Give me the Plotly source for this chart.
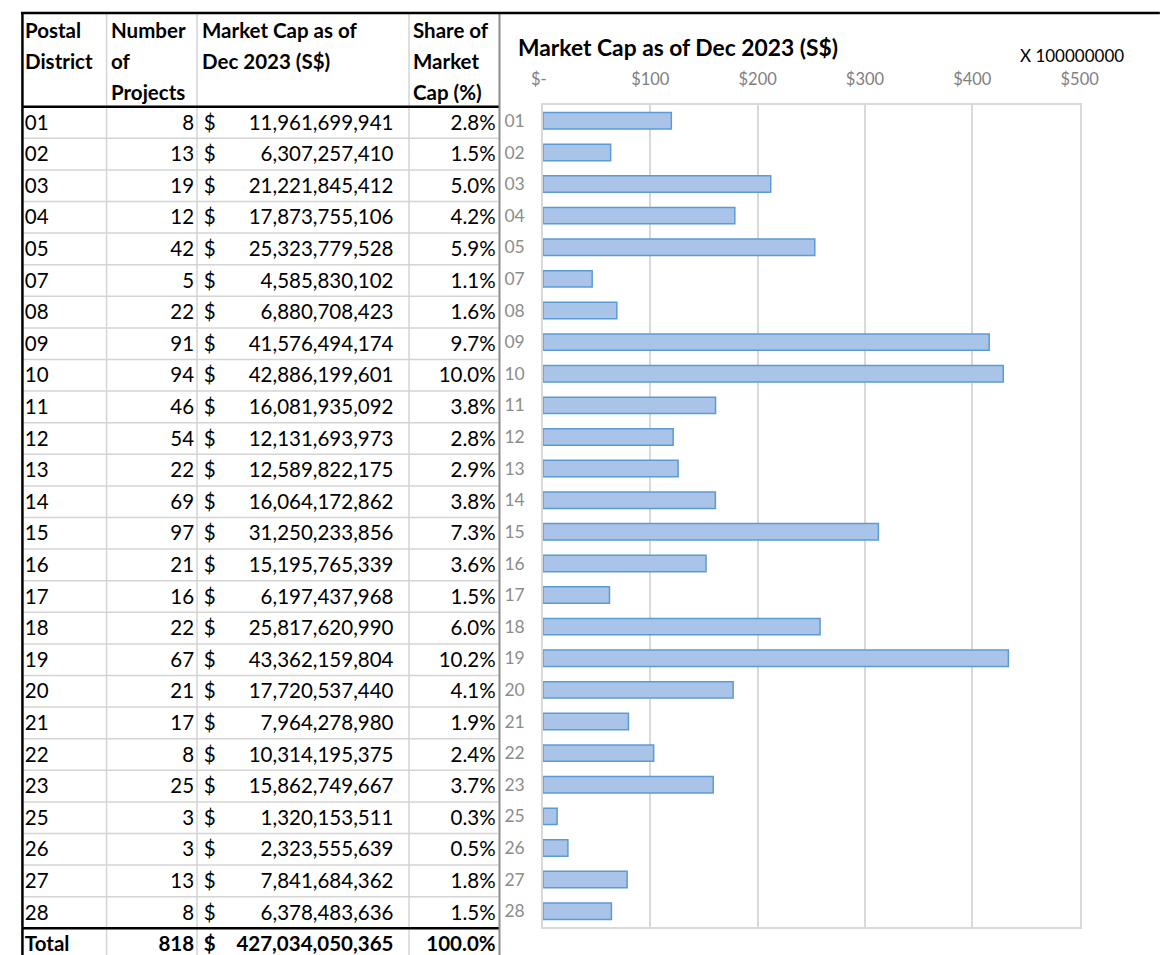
import plotly.graph_objects as go

# ---------------- data ----------------
districts = ["01", "02", "03", "04", "05", "07", "08", "09", "10", "11", "12", "13", "14",
             "15", "16", "17", "18", "19", "20", "21", "22", "23", "25", "26", "27", "28"]
projects = [8, 13, 19, 12, 42, 5, 22, 91, 94, 46, 54, 22, 69, 97, 21, 16, 22, 67, 21, 17,
            8, 25, 3, 3, 13, 8]
market_cap = [11961699941, 6307257410, 21221845412, 17873755106, 25323779528, 4585830102,
              6880708423, 41576494174, 42886199601, 16081935092, 12131693973, 12589822175,
              16064172862, 31250233856, 15195765339, 6197437968, 25817620990, 43362159804,
              17720537440, 7964278980, 10314195375, 15862749667, 1320153511, 2323555639,
              7841684362, 6378483636]
share_pct = [2.8, 1.5, 5.0, 4.2, 5.9, 1.1, 1.6, 9.7, 10.0, 3.8, 2.8, 2.9, 3.8, 7.3, 3.6, 1.5,
             6.0, 10.2, 4.1, 1.9, 2.4, 3.7, 0.3, 0.5, 1.8, 1.5]
total_label = "Total"
total_projects = 818
total_market_cap = 427034050365
total_share = 100.0

x_tick_vals = [0, 100, 200, 300, 400, 500]
x_tick_text = ["$-\u00a0\u00a0", "$100", "$200", "$300", "$400", "$500"]
unit_scale = 100000000

header_lines = {
    "district": ["Postal", "District"],
    "projects": ["Number", "of", "Projects"],
    "cap": ["Market Cap as of", "Dec 2023 (S$)"],
    "share": ["Share of", "Market", "Cap (%)"],
}

# ---------------- layout constants (page pixels) ----------------
PAGE_W, PAGE_H = 1175, 955
OFF = 8                      # default body margin of the html page
W, H = PAGE_W - OFF, PAGE_H - OFF
ROW_H = 31.6
HEADER_BOTTOM = 106.7
TEXT_DROP = 2                # table text sits slightly low in its row
FONT = "Lato, 'Open Sans', sans-serif"
TXT = 20.5


def row_of(px):
    return -0.5 + (px - HEADER_BOTTOM) / ROW_H


def px_x(px):
    return (px - OFF) / W


def px_y(px):
    return 1 - (px - OFF) / H


n = len(districts)
rows = list(range(n))
total_row = n

fig = go.Figure()

# ---------------- table (on x2/y2: page-pixel columns / row index) ----------------
col_x = {"district": 13, "projects": 187, "dollar": 197, "cap": 392, "share": 497}


def text_trace(xpos, ys, texts, pos, bold=False):
    return go.Scatter(
        x=[xpos] * len(ys), y=ys, text=[f"<b>{t}</b>" if bold else t for t in texts],
        mode="text", textposition=pos, xaxis="x2", yaxis="y2",
        textfont=dict(family=FONT, size=TXT, color="#000000"),
        hoverinfo="skip", showlegend=False, cliponaxis=False,
    )


fig.add_trace(text_trace(col_x["district"], rows, districts, "middle right"))
fig.add_trace(text_trace(col_x["projects"], rows, [str(p) for p in projects], "middle left"))
fig.add_trace(text_trace(col_x["dollar"], rows, ["$"] * n, "middle right"))
fig.add_trace(text_trace(col_x["cap"], rows, [f"{v:,}" for v in market_cap], "middle left"))
fig.add_trace(text_trace(col_x["share"], rows, [f"{s:.1f}%" for s in share_pct], "middle left"))

fig.add_trace(text_trace(col_x["district"], [total_row], [total_label], "middle right", True))
fig.add_trace(text_trace(col_x["projects"], [total_row], [str(total_projects)], "middle left", True))
fig.add_trace(text_trace(col_x["dollar"], [total_row], ["$"], "middle right", True))
fig.add_trace(text_trace(col_x["cap"], [total_row], [f"{total_market_cap:,}"], "middle left", True))
fig.add_trace(text_trace(col_x["share"], [total_row], [f"{total_share:.1f}%"], "middle left", True))

# header text (paper coordinates from page pixels)
header_y_px = [30, 61, 92]
header_x = {"district": 11, "projects": 99, "cap": 193, "share": 410}
annotations = []
for key, lines in header_lines.items():
    for i, line in enumerate(lines):
        annotations.append(dict(
            x=px_x(header_x[key]), y=px_y(header_y_px[i]), xref="paper", yref="paper",
            text=f"<b>{line}</b>", showarrow=False, xanchor="left", yanchor="middle",
            font=dict(family=FONT, size=TXT, color="#000000")))

# table lines (paper coordinates)
shapes = []
grey = "#d4d4d4"


def hline(y_px, x0, x1, color, width, layer="above"):
    return dict(type="line", xref="paper", yref="paper", x0=px_x(x0), x1=px_x(x1),
                y0=px_y(y_px), y1=px_y(y_px), line=dict(color=color, width=width), layer=layer)


def vline(x_px, y0, y1, color, width, layer="above"):
    return dict(type="line", xref="paper", yref="paper", x0=px_x(x_px), x1=px_x(x_px),
                y0=px_y(y0), y1=px_y(y1), line=dict(color=color, width=width), layer=layer)


for r in range(1, n):
    shapes.append(hline(HEADER_BOTTOM + r * ROW_H, 10, 500, grey, 1.5, "below"))
for vx in [97, 190, 408]:
    shapes.append(vline(vx, 13, PAGE_H + 5, grey, 1.5, "below"))
shapes.append(hline(HEADER_BOTTOM, 10, 501, "#000000", 2.5))
shapes.append(hline(HEADER_BOTTOM + n * ROW_H, 10, 501, "#000000", 2.5))
shapes.append(vline(501, 13, PAGE_H + 5, "#8c8c8c", 2))
shapes.append(hline(13, 9, PAGE_W + 5, "#000000", 2.5))
shapes.append(vline(10.5, 13, PAGE_H + 5, "#000000", 2.5))

# ---------------- bar chart ----------------
fig.add_trace(go.Bar(
    x=[v / unit_scale for v in market_cap], y=districts, orientation="h",
    marker=dict(color="#a9c4e8", line=dict(color="#5b9bd5", width=1.5)),
    hoverinfo="skip", showlegend=False,
))

PL, PR, PT, PB = 545.7, 1097.5, 105.0, 927.0

annotations.append(dict(
    x=px_x(518), y=px_y(47), xref="paper", yref="paper", xanchor="left", yanchor="middle",
    text="<b>Market Cap as of Dec 2023 (S$)</b>", showarrow=False,
    font=dict(family=FONT, size=22.8, color="#000000")))
annotations.append(dict(
    x=px_x(1034), y=px_y(56), xref="paper", yref="paper", xanchor="left", yanchor="middle",
    text="X 100000000", showarrow=False,
    font=dict(family=FONT, size=17, color="#000000")))

fig.update_layout(
    width=W, height=H, autosize=False,
    margin=dict(l=0, r=0, t=0, b=0, pad=0),
    paper_bgcolor="#ffffff", plot_bgcolor="rgba(0,0,0,0)",
    bargap=0.48,
    showlegend=False,
    shapes=shapes,
    annotations=annotations,
    xaxis=dict(
        domain=[px_x(PL), px_x(PR)], anchor="y", side="top", range=[0, 500],
        tickvals=x_tick_vals, ticktext=x_tick_text,
        tickfont=dict(family=FONT, size=16.5, color="#808080"),
        showgrid=True, gridcolor="#d9d9d9", gridwidth=1.5,
        showline=True, linecolor="#d9d9d9", linewidth=1.5, mirror=True,
        zeroline=False, ticks="outside", ticklen=12, tickcolor="rgba(0,0,0,0)",
        fixedrange=True,
    ),
    yaxis=dict(
        domain=[px_y(PB), px_y(PT)], anchor="x", type="category",
        categoryorder="array", categoryarray=districts, autorange="reversed",
        tickfont=dict(family=FONT, size=17.5, color="#8c8c8c"),
        showgrid=False, showline=True, linecolor="#d9d9d9", linewidth=1.5, mirror=True,
        ticks="outside", ticklen=13, tickcolor="rgba(0,0,0,0)", fixedrange=True,
    ),
    xaxis2=dict(domain=[0, 1], anchor="y2", range=[OFF, PAGE_W], visible=False, fixedrange=True),
    yaxis2=dict(domain=[0, 1], anchor="x2",
                range=[row_of(PAGE_H - TEXT_DROP), row_of(OFF - TEXT_DROP)], visible=False,
                fixedrange=True),
)

fig.write_html("out.html")
